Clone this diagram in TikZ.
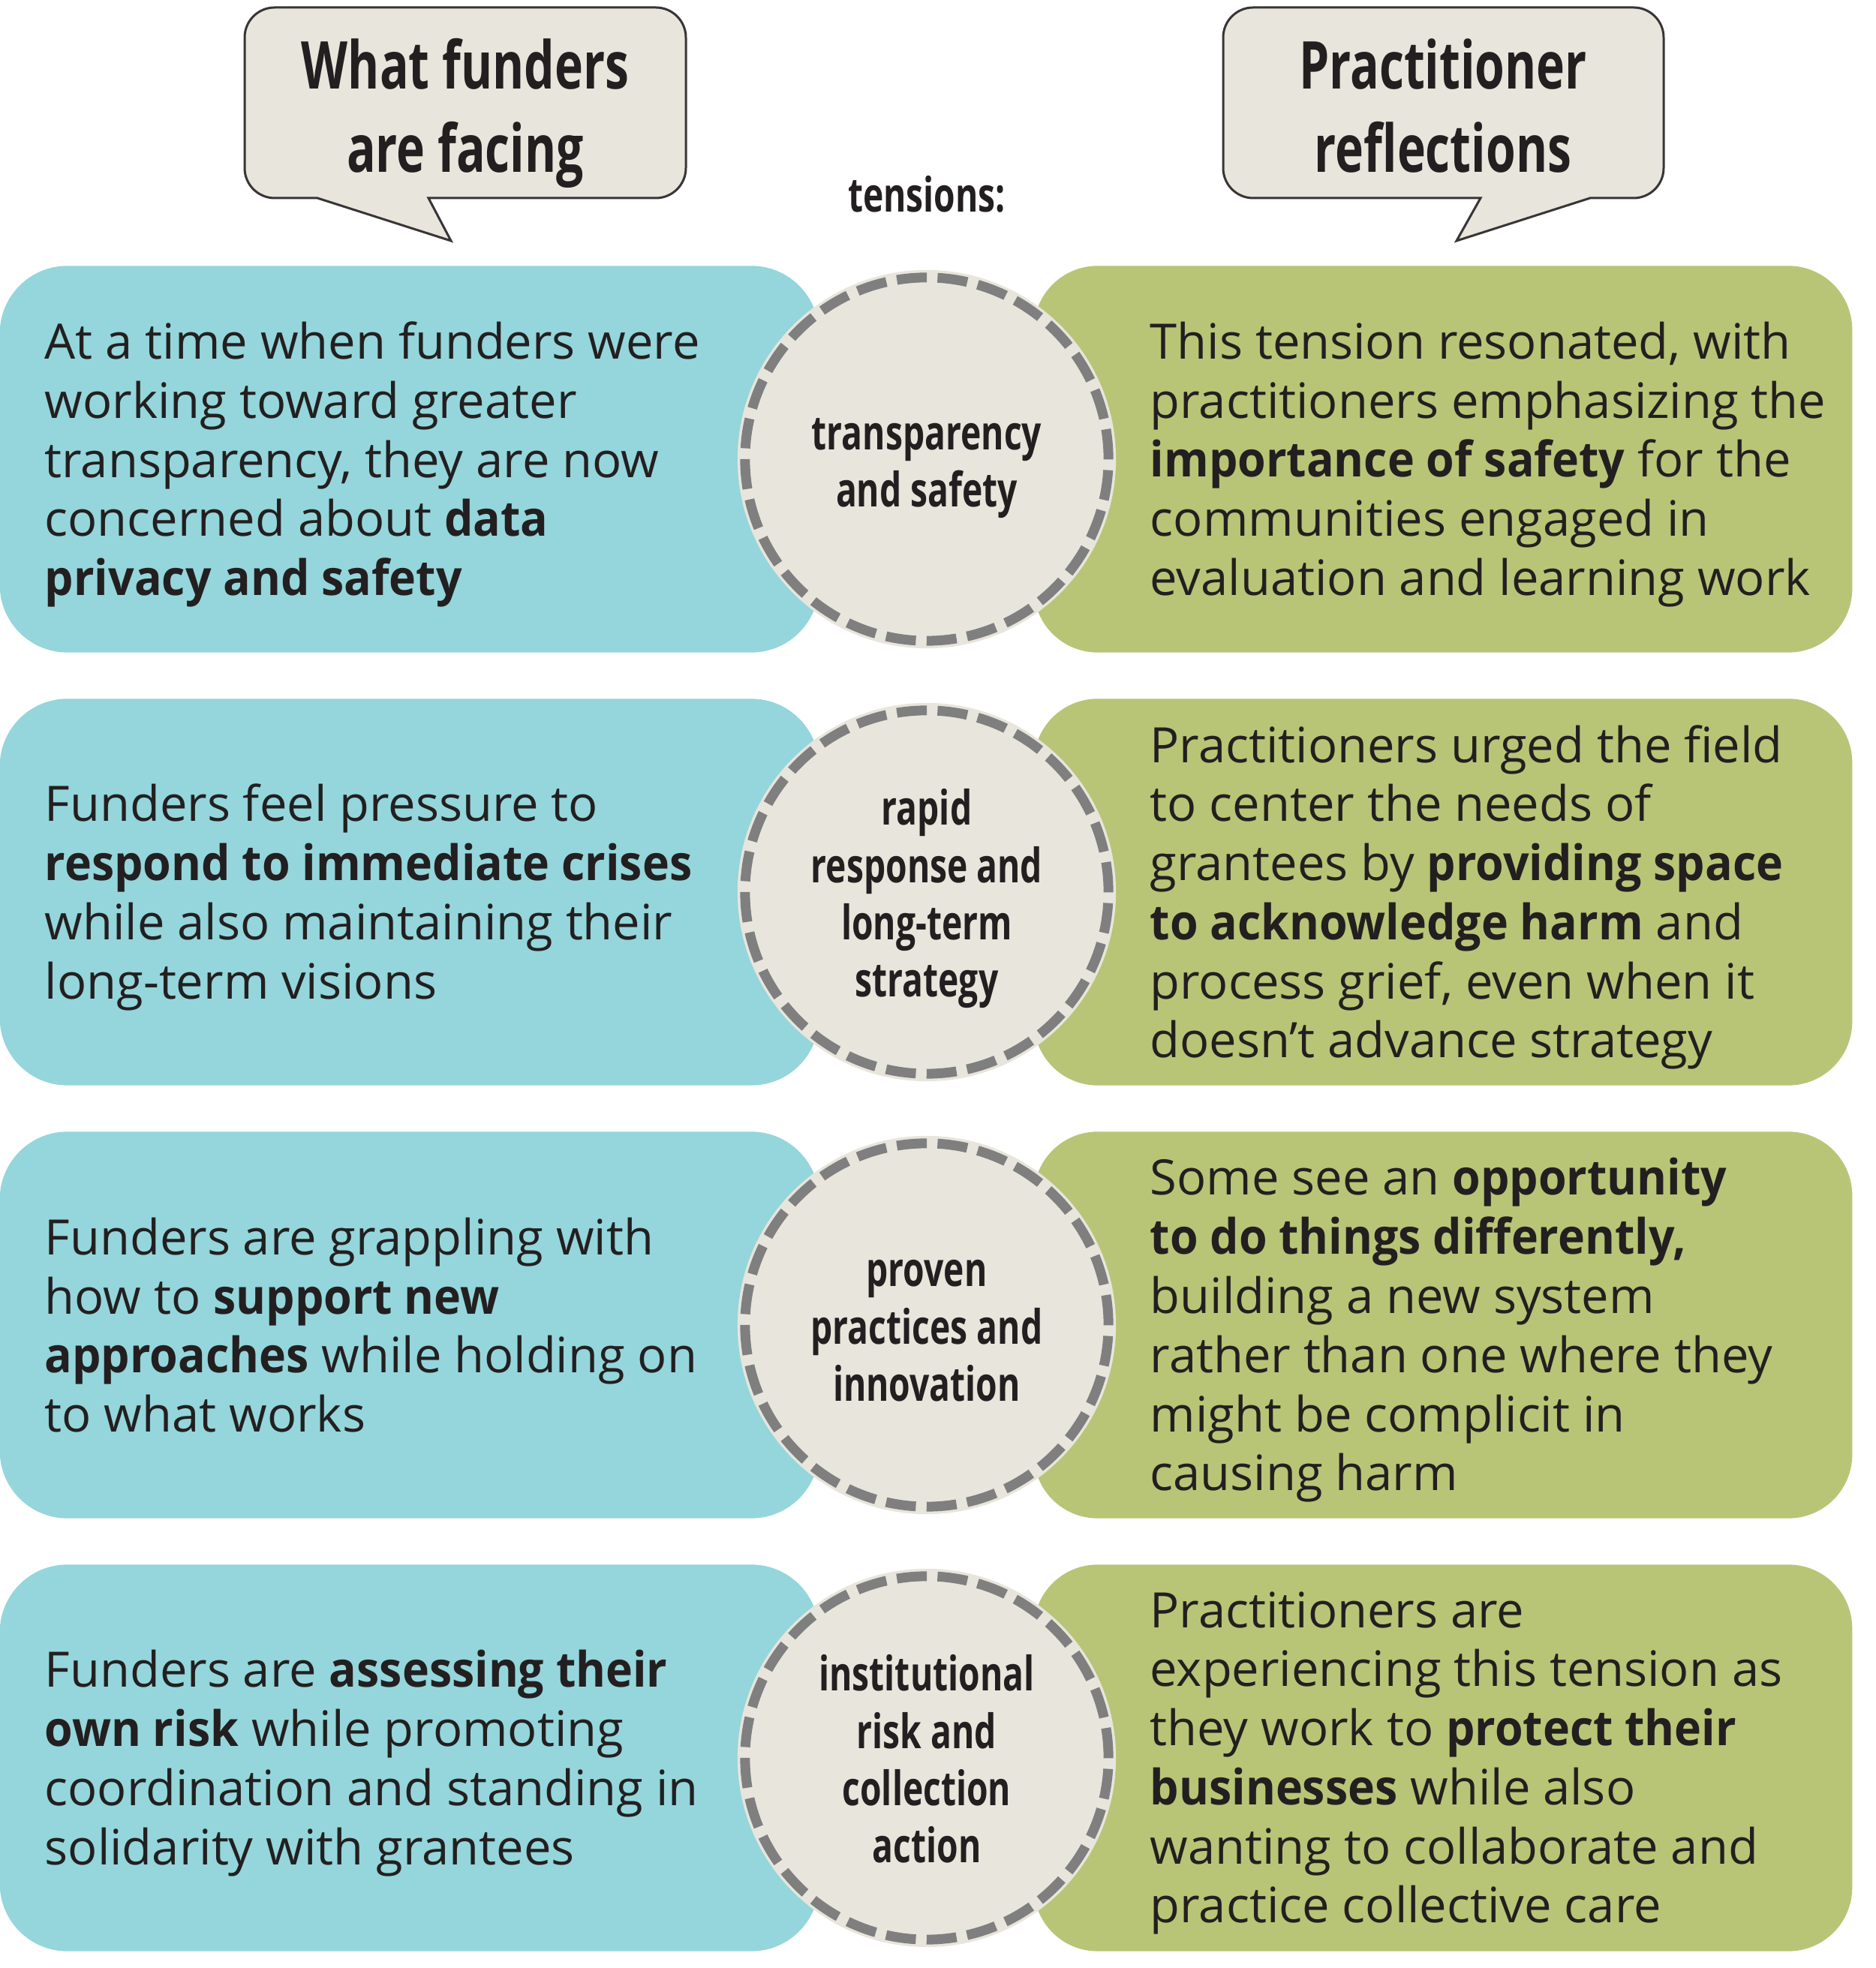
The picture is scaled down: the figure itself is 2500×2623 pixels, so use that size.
\documentclass[tikz,border=0pt]{standalone}
\usepackage{fontspec}
\setmainfont{Open Sans}[BoldFeatures={FakeStretch=0.935}]
\newfontfamily\condfont{Open Sans}[FakeStretch=0.73]
\usetikzlibrary{positioning}
\definecolor{fundblue}{HTML}{94D6DB}
\definecolor{practgreen}{HTML}{B8C576}
\definecolor{paper}{HTML}{E8E5DC}
\definecolor{dashgray}{HTML}{7F7F7F}
\definecolor{ink}{HTML}{231F20}
\tikzstyle{fundbox}     = [rectangle, rounded corners=0.9cm, fill=fundblue, minimum width=10.91cm, minimum height=5.15cm, inner sep=0pt]
\tikzstyle{practbox}    = [rectangle, rounded corners=0.85cm, fill=practgreen, minimum width=10.90cm, minimum height=5.15cm, inner sep=0pt]
\tikzstyle{bodytext}    = [anchor=west, align=left, inner sep=0pt, text=ink, font=\fontsize{18.5}{22.4}\selectfont]
\tikzstyle{tensioncircle} = [circle, fill=paper, minimum size=5.04cm, inner sep=0pt]
\tikzstyle{tensionlabel}  = [align=center, inner sep=0pt, text=ink, font=\condfont\bfseries\fontsize{18}{21.7}\selectfont]
\tikzstyle{tensionring} = [draw=dashgray, line width=0.13cm, dash pattern=on 0.40cm off 0.143cm]
\tikzstyle{bubble}      = [draw=ink!90, line width=0.03cm, fill=paper]
\tikzstyle{bubbletext}  = [align=center, inner sep=0pt, text=ink, font=\condfont\bfseries\fontsize{25}{31.3}\selectfont]

\begin{document}
\begin{tikzpicture}[x=0.01cm, y=0.01cm]

\useasboundingbox (0,0) rectangle (2500,2623);

% speech bubbles
\draw[bubble] (366,2613) -- (874,2613) arc[start angle=90, end angle=0, radius=40] -- (914,2399) arc[start angle=0, end angle=-90, radius=40] -- (571,2359) -- (601,2302) -- (423,2359) -- (366,2359) arc[start angle=270, end angle=180, radius=40] -- (326,2573) arc[start angle=180, end angle=90, radius=40] -- cycle;
\draw[bubble] (1670,2613) -- (2177,2613) arc[start angle=90, end angle=0, radius=40] -- (2217,2399) arc[start angle=0, end angle=-90, radius=40] -- (2119,2359) -- (1941,2302) -- (1973,2359) -- (1670,2359) arc[start angle=270, end angle=180, radius=40] -- (1630,2573) arc[start angle=180, end angle=90, radius=40] -- cycle;

\node[bubbletext] (funders) at (620,2471) {\strut What funders\\are facing\strut};
\node[bubbletext] (practitioners) at (1923,2471) {\strut Practitioner\\reflections\strut};
\node[text=ink, font=\condfont\bfseries\fontsize{18}{21}\selectfont] (tensions) at (1235,2364) {tensions:};

% row 1
\node[fundbox] (F1) at (545.5,2011) {};
\node[practbox] (P1) at (1923,2011) {};
\node[tensioncircle] (T1) at (1235,2011) {};
\draw[tensionring] (T1.center) circle[radius=2.42cm];
\node[tensionlabel] (L1) at ([yshift=-0.1cm]T1.center) {\strut transparency\\and safety\strut};
\node[bodytext] (FT1) at ([xshift=0.6cm, yshift=-0.07cm]F1.west) {At a time when funders were\\working toward greater\\transparency, they are now\\concerned about \textbf{data}\\\textbf{privacy and safety}};
\node[bodytext] (PT1) at ([xshift=1.55cm, yshift=-0.07cm]P1.west) {This tension resonated, with\\practitioners emphasizing the\\\textbf{importance of safety} for the\\communities engaged in\\evaluation and learning work};

% row 2
\node[fundbox] (F2) at (545.5,1434) {};
\node[practbox] (P2) at (1923,1434) {};
\node[tensioncircle] (T2) at (1235,1434) {};
\draw[tensionring] (T2.center) circle[radius=2.42cm];
\node[tensionlabel] (L2) at ([yshift=-0.1cm]T2.center) {\strut rapid\\response and\\long-term\\strategy\strut};
\node[bodytext] (FT2) at ([xshift=0.6cm, yshift=-0.07cm]F2.west) {Funders feel pressure to\\\textbf{respond to immediate crises}\\while also maintaining their\\long-term visions};
\node[bodytext] (PT2) at ([xshift=1.55cm, yshift=-0.07cm]P2.west) {Practitioners urged the field\\to center the needs of\\grantees by \textbf{providing space}\\\textbf{to acknowledge harm} and\\process grief, even when it\\doesn’t advance strategy};

% row 3
\node[fundbox] (F3) at (545.5,857) {};
\node[practbox] (P3) at (1923,857) {};
\node[tensioncircle] (T3) at (1235,857) {};
\draw[tensionring] (T3.center) circle[radius=2.42cm];
\node[tensionlabel] (L3) at ([yshift=-0.1cm]T3.center) {\strut proven\\practices and\\innovation\strut};
\node[bodytext] (FT3) at ([xshift=0.6cm]F3.west) {Funders are grappling with\\how to \textbf{support new}\\\textbf{approaches} while holding on\\to what works};
\node[bodytext] (PT3) at ([xshift=1.55cm, yshift=-0.07cm]P3.west) {Some see an \textbf{opportunity}\\\textbf{to do things differently,}\\building a new system\\rather than one where they\\might be complicit in\\causing harm};

% row 4
\node[fundbox] (F4) at (545.5,280) {};
\node[practbox] (P4) at (1923,280) {};
\node[tensioncircle] (T4) at (1235,280) {};
\draw[tensionring] (T4.center) circle[radius=2.42cm];
\node[tensionlabel] (L4) at ([yshift=-0.1cm]T4.center) {\strut institutional\\risk and\\collection\\action\strut};
\node[bodytext] (FT4) at ([xshift=0.6cm, yshift=-0.07cm]F4.west) {Funders are \textbf{assessing their}\\\textbf{own risk} while promoting\\coordination and standing in\\solidarity with grantees};
\node[bodytext] (PT4) at ([xshift=1.55cm, yshift=-0.07cm]P4.west) {Practitioners are\\experiencing this tension as\\they work to \textbf{protect their}\\\textbf{businesses} while also\\wanting to collaborate and\\practice collective care};

\end{tikzpicture}
\end{document}
